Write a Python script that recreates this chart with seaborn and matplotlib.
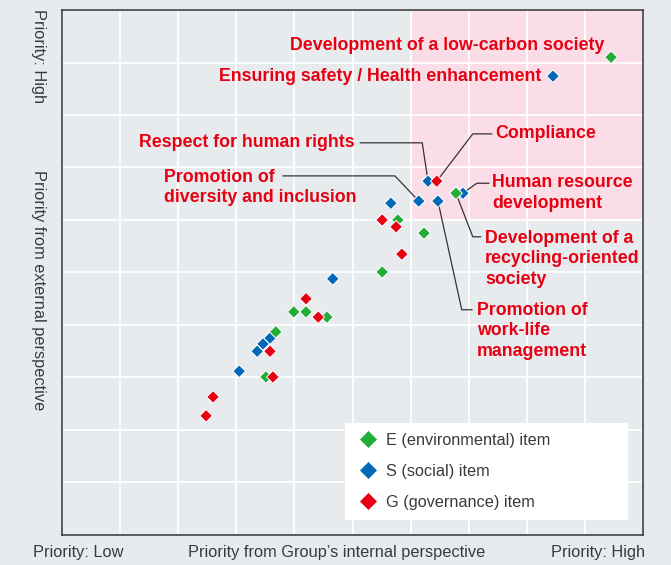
import matplotlib
matplotlib.use("Agg")
import matplotlib.pyplot as plt
import seaborn as sns
import pandas as pd
from matplotlib.patches import Rectangle
from matplotlib.lines import Line2D

# materiality matrix: internal (x) vs external (y) priority, 0-10 scale
e_x = [9.45, 6.78, 5.78, 6.23, 5.51, 3.99, 4.20, 4.56, 3.68, 3.51]
e_y = [9.10, 6.51, 6.00, 5.75, 5.01, 4.25, 4.25, 4.15, 3.87, 3.01]
s_x = [8.45, 6.30, 6.14, 6.47, 6.90, 5.66, 4.66, 3.58, 3.46, 3.36, 3.05]
s_y = [8.74, 6.74, 6.36, 6.36, 6.51, 6.32, 4.88, 3.75, 3.64, 3.50, 3.12]
g_x = [6.45, 5.51, 5.75, 5.85, 4.20, 4.41, 3.58, 3.63, 2.60, 2.48]
g_y = [6.74, 6.00, 5.87, 5.35, 4.50, 4.15, 3.50, 3.01, 2.63, 2.27]

item_names = ["E (environmental) item", "S (social) item", "G (governance) item"]
item_colors = ["#22ac38", "#0068b7", "#e60012"]

# labelled items: (text, series, index, text x, text y, ha, leader bend points)
labels = [
    ("Development of a low-carbon society", "E", 0, 9.33, 9.33, "right", []),
    ("Ensuring safety / Health enhancement", "S", 0, 8.25, 8.74, "right", []),
    ("Respect for human rights", "S", 1, 5.04, 7.47, "right", [(6.20, 7.47), (5.13, 7.47)]),
    ("Compliance", "G", 0, 7.45, 7.64, "left", [(7.07, 7.64), (7.40, 7.64)]),
    ("Promotion of\ndiversity and inclusion", "S", 2, 1.76, 6.62, "left", [(5.73, 6.84), (3.80, 6.84)]),
    ("Human resource\ndevelopment", "S", 4, 7.40, 6.51, "left", [(7.14, 6.70), (7.35, 6.70)]),
    ("Development of a\nrecycling-oriented\nsociety", "E", 1, 7.28, 5.26, "left", [(7.07, 5.68), (7.21, 5.68)]),
    ("Promotion of\nwork-life\nmanagement", "S", 3, 7.14, 3.89, "left", [(6.88, 4.29), (7.06, 4.29)]),
]

df = pd.concat([
    pd.DataFrame({"internal": s_x, "external": s_y, "item": item_names[1]}),
    pd.DataFrame({"internal": e_x, "external": e_y, "item": item_names[0]}),
    pd.DataFrame({"internal": g_x, "external": g_y, "item": item_names[2]}),
], ignore_index=True)
series = {"E": (e_x, e_y), "S": (s_x, s_y), "G": (g_x, g_y)}

bg = "#e8ebee"
pink = "#fbdde8"
red_txt = "#e60012"
txt = "#3a3a3a"

sns.set_style("white")
plt.rcParams['font.family'] = ['Liberation Sans', 'DejaVu Sans']

fig = plt.figure(figsize=(6.71, 5.65), dpi=100, facecolor=bg)
ax = fig.add_axes([0.0924, 0.0531, 0.8659, 0.9292])
ax.set_facecolor(bg)

ax.add_patch(Rectangle((6, 6), 4, 4, facecolor=pink, edgecolor="none", zorder=0.1))

sns.scatterplot(data=df, x="internal", y="external", hue="item",
                palette=dict(zip(item_names, item_colors)), marker="D", s=42,
                edgecolor="white", linewidth=0.7, ax=ax, zorder=3, legend=False)

for text, key, idx, tx, ty, ha, bends in labels:
    if bends:
        px, py = series[key][0][idx], series[key][1][idx]
        path = [(px, py)] + bends
        ax.plot([p[0] for p in path], [p[1] for p in path], color="#333333", lw=0.9, zorder=2)
    ax.text(tx, ty, text, color=red_txt, fontsize=12.8, fontweight="bold", ha=ha, va="center",
            multialignment=ha, linespacing=1.27, zorder=4)

ax.set_xlim(0, 10)
ax.set_ylim(0, 10)
ax.set_xticks(range(11))
ax.set_yticks(range(11))
ax.grid(True, color="white", lw=1.3)
ax.set_axisbelow(True)
ax.tick_params(length=0, labelbottom=False, labelleft=False)
ax.set_xlabel("")
ax.set_ylabel("")
for sp in ax.spines.values():
    sp.set_color("#333333")
    sp.set_linewidth(1.1)
    sp.set_visible(True)

handles = [Line2D([], [], marker="D", ls="none", color=c, markeredgecolor="white",
                  markeredgewidth=0.5, markersize=9.5) for c in item_colors]
leg = ax.legend(handles, item_names, loc="lower left", bbox_to_anchor=(0.487, 0.029, 0.487, 0.194),
                mode="expand", frameon=True, fancybox=False, framealpha=1, edgecolor="none",
                facecolor="white", fontsize=11.7, labelcolor=txt, handlelength=1.6,
                handletextpad=0.3, labelspacing=1.0, borderpad=0.6, borderaxespad=0)
leg.set_zorder(5)

lab_size = 11.8
ax.text(0.0275, -0.034, "Priority: Low", transform=ax.transAxes, ha="center", va="center",
        fontsize=lab_size, color=txt)
ax.text(0.473, -0.034, "Priority from Group\u2019s internal perspective", transform=ax.transAxes,
        ha="center", va="center", fontsize=lab_size, color=txt)
ax.text(1.003, -0.034, "Priority: High", transform=ax.transAxes, ha="right", va="center",
        fontsize=lab_size, color=txt)
ax.text(-0.041, 0.912, "Priority: High", transform=ax.transAxes, ha="center", va="center",
        rotation=-90, fontsize=lab_size, color=txt)
ax.text(-0.041, 0.467, "Priority from external perspective", transform=ax.transAxes,
        ha="center", va="center", rotation=-90, fontsize=lab_size, color=txt)

fig.savefig("out.png", dpi=100, facecolor=bg)
